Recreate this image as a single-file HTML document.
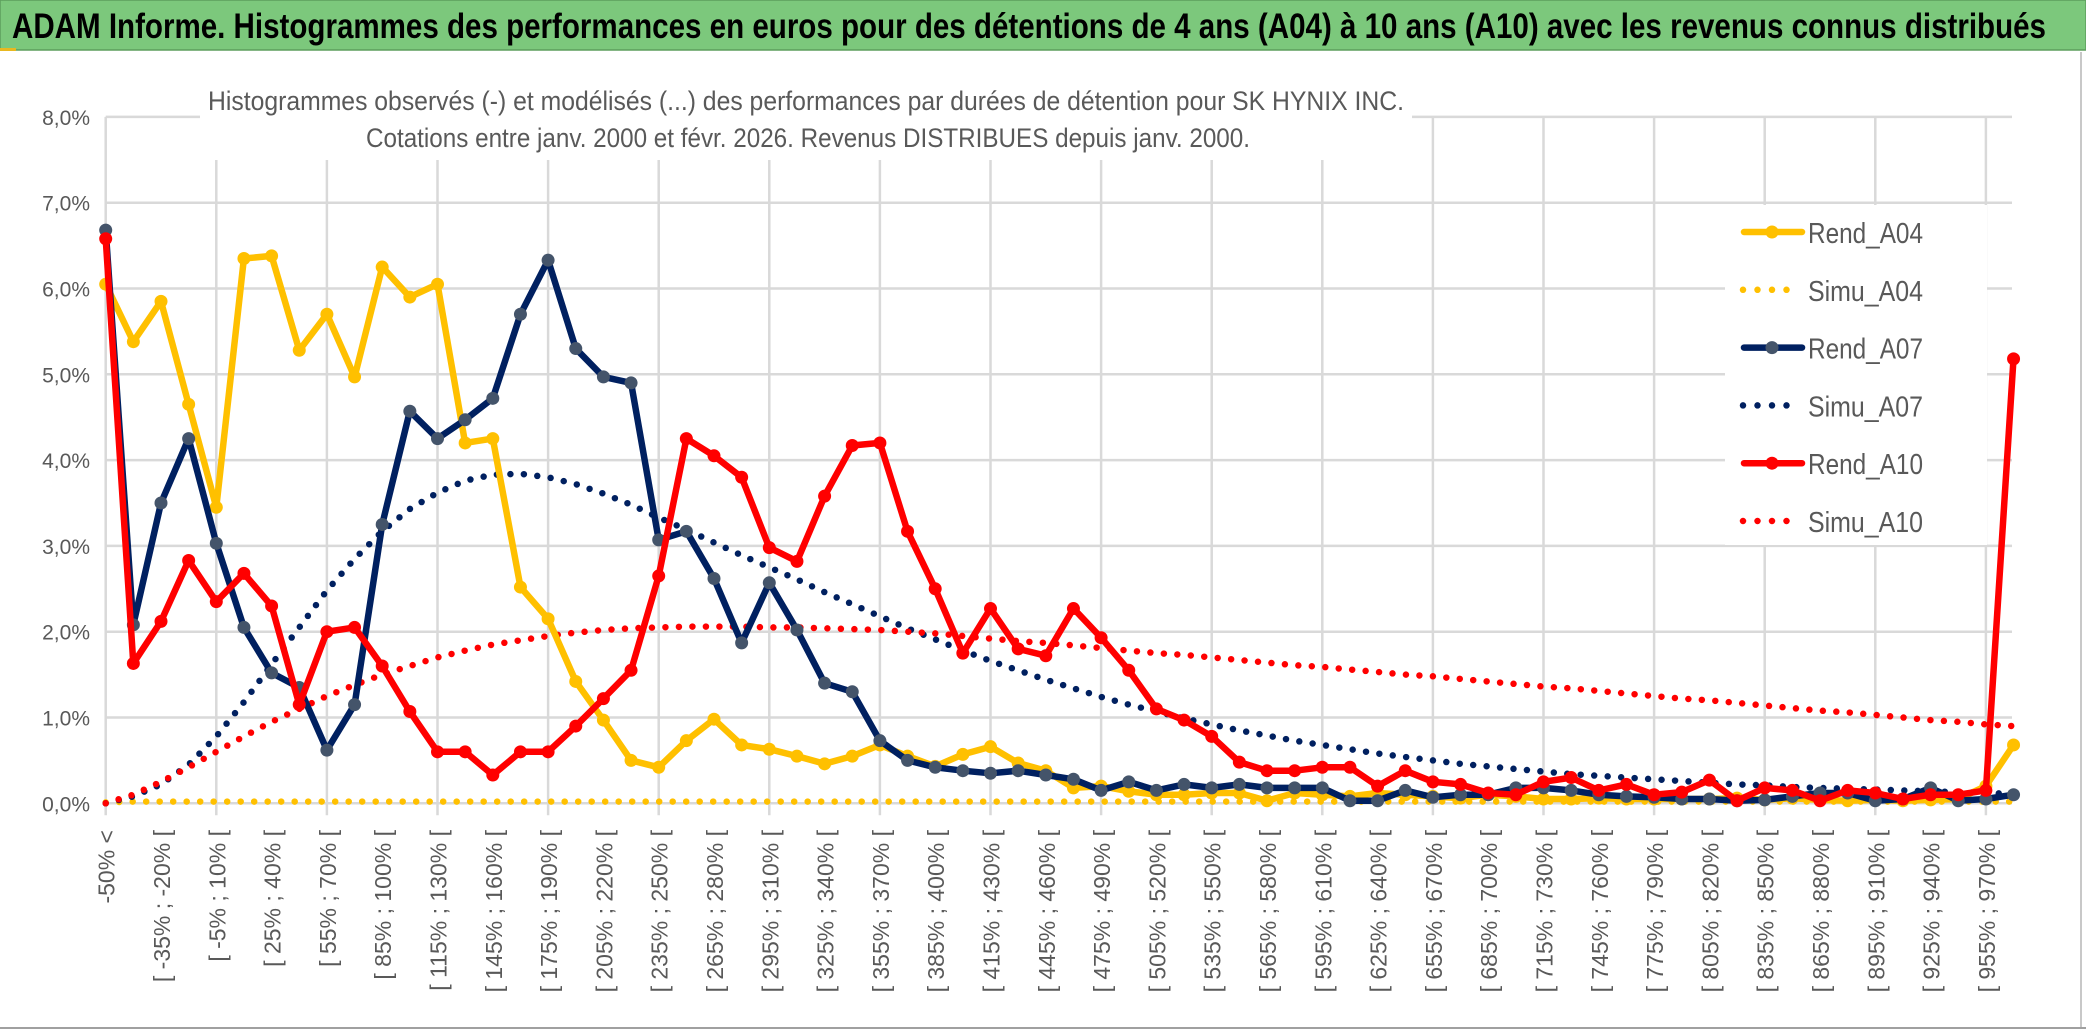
<!DOCTYPE html>
<html><head><meta charset="utf-8">
<style>
html,body{margin:0;padding:0;background:#fff;}
svg{display:block;font-family:"Liberation Sans",sans-serif;}
</style></head>
<body>
<svg id="chart" width="2086" height="1031" viewBox="0 0 2086 1031" xmlns="http://www.w3.org/2000/svg">
<rect x="0" y="0" width="2086" height="1031" fill="#fff"/>
<rect x="0" y="0" width="2086" height="50" fill="#7cc87c" stroke="#5d9e5d" stroke-width="1.5"/>
<rect x="0" y="48" width="16" height="3" fill="#e8b820"/>
<text x="12" y="38" font-size="35" font-weight="bold" fill="#000" textLength="2034" lengthAdjust="spacingAndGlyphs">ADAM Informe. Histogrammes des performances en euros pour des détentions de 4 ans (A04) à 10 ans (A10) avec les revenus connus distribués</text>
<line x1="2081" y1="52" x2="2081" y2="1028" stroke="#c8c8c8" stroke-width="2"/>
<line x1="0" y1="1028" x2="2086" y2="1028" stroke="#a0a0a0" stroke-width="2"/>
<g id="grid"></g>
<g id="ylabels"></g>
<g id="xlabels"></g>
<rect x="200" y="60" width="1212" height="100" fill="#fff"/>
<text x="806" y="110" font-size="27" fill="#595959" text-anchor="middle" textLength="1196" lengthAdjust="spacingAndGlyphs">Histogrammes observés (-) et modélisés (...) des performances par durées de détention pour SK HYNIX INC.</text>
<text x="808" y="147" font-size="27" fill="#595959" text-anchor="middle" textLength="884" lengthAdjust="spacingAndGlyphs">Cotations entre janv. 2000 et févr. 2026. Revenus DISTRIBUES depuis janv. 2000.</text>
<g id="series"></g>
<rect x="1725" y="205" width="262" height="340" fill="#fff"/>
<g id="legend"></g>
</svg>
<script>
const rendA04 = [6.05,5.38,5.85,4.65,3.45,6.35,6.38,5.28,5.70,4.97,6.25,5.90,6.05,4.20,4.25,2.52,2.15,1.42,0.97,0.50,0.42,0.73,0.98,0.68,0.63,0.55,0.46,0.55,0.68,0.55,0.43,0.57,0.66,0.47,0.38,0.18,0.20,0.14,0.10,0.10,0.12,0.12,0.03,0.12,0.10,0.08,0.12,0.10,0.08,0.06,0.10,0.08,0.05,0.05,0.06,0.05,0.05,0.05,0.05,0.06,0.04,0.06,0.04,0.03,0.04,0.03,0.04,0.05,0.20,0.68];
const rendA07 = [6.68,2.08,3.50,4.25,3.03,2.05,1.52,1.35,0.62,1.15,3.25,4.57,4.25,4.47,4.72,5.70,6.33,5.30,4.97,4.90,3.07,3.17,2.62,1.87,2.57,2.02,1.40,1.30,0.73,0.50,0.42,0.38,0.35,0.38,0.33,0.28,0.15,0.25,0.15,0.22,0.18,0.22,0.18,0.18,0.18,0.03,0.03,0.15,0.07,0.10,0.10,0.18,0.18,0.15,0.10,0.08,0.07,0.05,0.05,0.03,0.04,0.08,0.12,0.12,0.03,0.05,0.18,0.03,0.05,0.10];
const rendA10 = [6.58,1.63,2.12,2.83,2.35,2.68,2.30,1.15,2.00,2.05,1.60,1.07,0.60,0.60,0.33,0.60,0.60,0.90,1.22,1.55,2.65,4.25,4.05,3.80,2.98,2.82,3.58,4.17,4.20,3.17,2.50,1.75,2.27,1.80,1.72,2.27,1.93,1.55,1.10,0.97,0.78,0.48,0.38,0.38,0.42,0.42,0.20,0.38,0.25,0.22,0.12,0.10,0.25,0.30,0.15,0.22,0.10,0.13,0.27,0.03,0.18,0.15,0.03,0.15,0.12,0.05,0.10,0.10,0.15,5.18];
const simuA04 = [0.01,0.02,0.02,0.02,0.02,0.02,0.02,0.02,0.02,0.02,0.02,0.02,0.02,0.02,0.02,0.02,0.02,0.02,0.02,0.02,0.02,0.02,0.02,0.02,0.02,0.02,0.02,0.02,0.02,0.02,0.02,0.02,0.02,0.02,0.02,0.02,0.02,0.02,0.02,0.02,0.02,0.02,0.02,0.02,0.02,0.02,0.02,0.02,0.02,0.02,0.02,0.02,0.02,0.02,0.02,0.02,0.02,0.02,0.02,0.02,0.02,0.02,0.02,0.02,0.02,0.02,0.02,0.02,0.02,0.02];
const simuA07 = [0,0.08,0.22,0.45,0.78,1.18,1.62,2.05,2.48,2.85,3.17,3.43,3.62,3.76,3.83,3.84,3.80,3.72,3.61,3.48,3.33,3.19,3.04,2.89,2.75,2.61,2.46,2.32,2.18,2.04,1.91,1.78,1.66,1.55,1.44,1.34,1.24,1.15,1.07,0.99,0.92,0.85,0.79,0.73,0.68,0.63,0.58,0.54,0.50,0.46,0.43,0.40,0.37,0.34,0.32,0.30,0.28,0.26,0.24,0.22,0.21,0.19,0.18,0.17,0.16,0.15,0.14,0.13,0.12,0.11];
const simuA10 = [0,0.10,0.25,0.42,0.60,0.78,0.95,1.10,1.25,1.38,1.50,1.60,1.70,1.78,1.85,1.90,1.95,1.99,2.02,2.04,2.05,2.06,2.06,2.06,2.05,2.05,2.04,2.03,2.02,2.00,1.98,1.95,1.92,1.89,1.87,1.84,1.81,1.78,1.75,1.73,1.70,1.67,1.64,1.61,1.59,1.56,1.53,1.50,1.48,1.45,1.42,1.39,1.36,1.34,1.31,1.28,1.25,1.22,1.20,1.17,1.14,1.11,1.08,1.06,1.03,1.00,0.97,0.95,0.92,0.90];
const yTicks = [0,1,2,3,4,5,6,7,8];
const yTickLabels = ["0,0%","1,0%","2,0%","3,0%","4,0%","5,0%","6,0%","7,0%","8,0%"];
const binStart = -50, binStep = 15, nCats = 70;

const NS = "http://www.w3.org/2000/svg";
const X0 = 105.7, DX = 27.65, Y0 = 803.3, DY = 85.8;
function xPos(i){ return X0 + i*DX; }
function yPos(v){ return Y0 - v*DY; }
function mk(tag, attrs, parent){ const e=document.createElementNS(NS,tag); for(const k in attrs) e.setAttribute(k,attrs[k]); parent.appendChild(e); return e; }

function catLabel(i){
  if(i===0) return "-50% <";
  const a = binStart + (i-1)*binStep;
  return "[ " + a + "% ; " + (a+binStep) + "% [";
}

const grid = document.getElementById('grid');
yTicks.forEach(function(t){
  const l = mk('line',{x1:X0,x2:2012,y1:yPos(t),y2:yPos(t),stroke:'#d9d9d9','stroke-width':2.5},grid);
  
  
});
for(let i=0;i<nCats;i+=4){
  const l = mk('line',{x1:xPos(i),x2:xPos(i),y1:yPos(8),y2:Y0+12,stroke:'#d9d9d9','stroke-width':2.5},grid);
  
  
}
const yl = document.getElementById('ylabels');
yTicks.forEach(function(t,k){
  const tx = mk('text',{x:90,y:yPos(t)+8,'font-size':21,fill:'#595959','text-anchor':'end'},yl);
  tx.textContent = yTickLabels[k];
  
  
});
const xl = document.getElementById('xlabels');
for(let i=0;i<nCats;i+=2){
  const x = xPos(i)+9, y = 830;
  const tx = mk('text',{x:x,y:y,'font-size':23,fill:'#595959','text-anchor':'end',transform:'rotate(-90 '+x+' '+y+')'},xl);
  tx.textContent = catLabel(i);
  
  
}

const series = document.getElementById('series');
function drawDotted(vals,color,name){
  const d = vals.map(function(v,i){return (i?'L':'M')+xPos(i).toFixed(1)+' '+yPos(v).toFixed(1);}).join(' ');
  const p = mk('path',{d:d,fill:'none',stroke:color,'stroke-width':6.5,'stroke-linecap':'round','stroke-dasharray':'0 13.5'},series);
  
  
}
function drawLine(vals,color,markerColor,name){
  const g = mk('g',{},series);
  
  
  const d = vals.map(function(v,i){return (i?'L':'M')+xPos(i).toFixed(1)+' '+yPos(v).toFixed(1);}).join(' ');
  const p = mk('path',{d:d,fill:'none',stroke:color,'stroke-width':6.5,'stroke-linejoin':'round'},g);
  
  
  vals.forEach(function(v,i){
    const c = mk('circle',{cx:xPos(i),cy:yPos(v),r:6.5,fill:markerColor},g);
    
    
  });
}
drawDotted(simuA04,'#ffc000','simu-a04');
drawDotted(simuA07,'#002060','simu-a07');
drawDotted(simuA10,'#ff0000','simu-a10');
drawLine(rendA04,'#ffc000','#ffc000','rend-a04');
drawLine(rendA07,'#002060','#44546a','rend-a07');
drawLine(rendA10,'#ff0000','#ff0000','rend-a10');

const legend = document.getElementById('legend');
const legItems = [
  ['Rend_A04','#ffc000','#ffc000',false],
  ['Simu_A04','#ffc000',null,true],
  ['Rend_A07','#002060','#44546a',false],
  ['Simu_A07','#002060',null,true],
  ['Rend_A10','#ff0000','#ff0000',false],
  ['Simu_A10','#ff0000',null,true]
];
legItems.forEach(function(it,k){
  const y = 232 + k*57.8;
  const g = mk('g',{},legend);
  
  
  if(it[3]){
    mk('line',{x1:1743,x2:1800,y1:y,y2:y,stroke:it[1],'stroke-width':6.5,'stroke-linecap':'round','stroke-dasharray':'0 14.5'},g);
  } else {
    mk('line',{x1:1744,x2:1802,y1:y,y2:y,stroke:it[1],'stroke-width':6.5,'stroke-linecap':'round'},g);
    mk('circle',{cx:1772,cy:y,r:6.5,fill:it[2]},g);
  }
  const t = mk('text',{x:1808,y:y+11,'font-size':29,fill:'#595959',textLength:115,lengthAdjust:'spacingAndGlyphs'},g);
  t.textContent = it[0];
});
</script>
</body></html>
